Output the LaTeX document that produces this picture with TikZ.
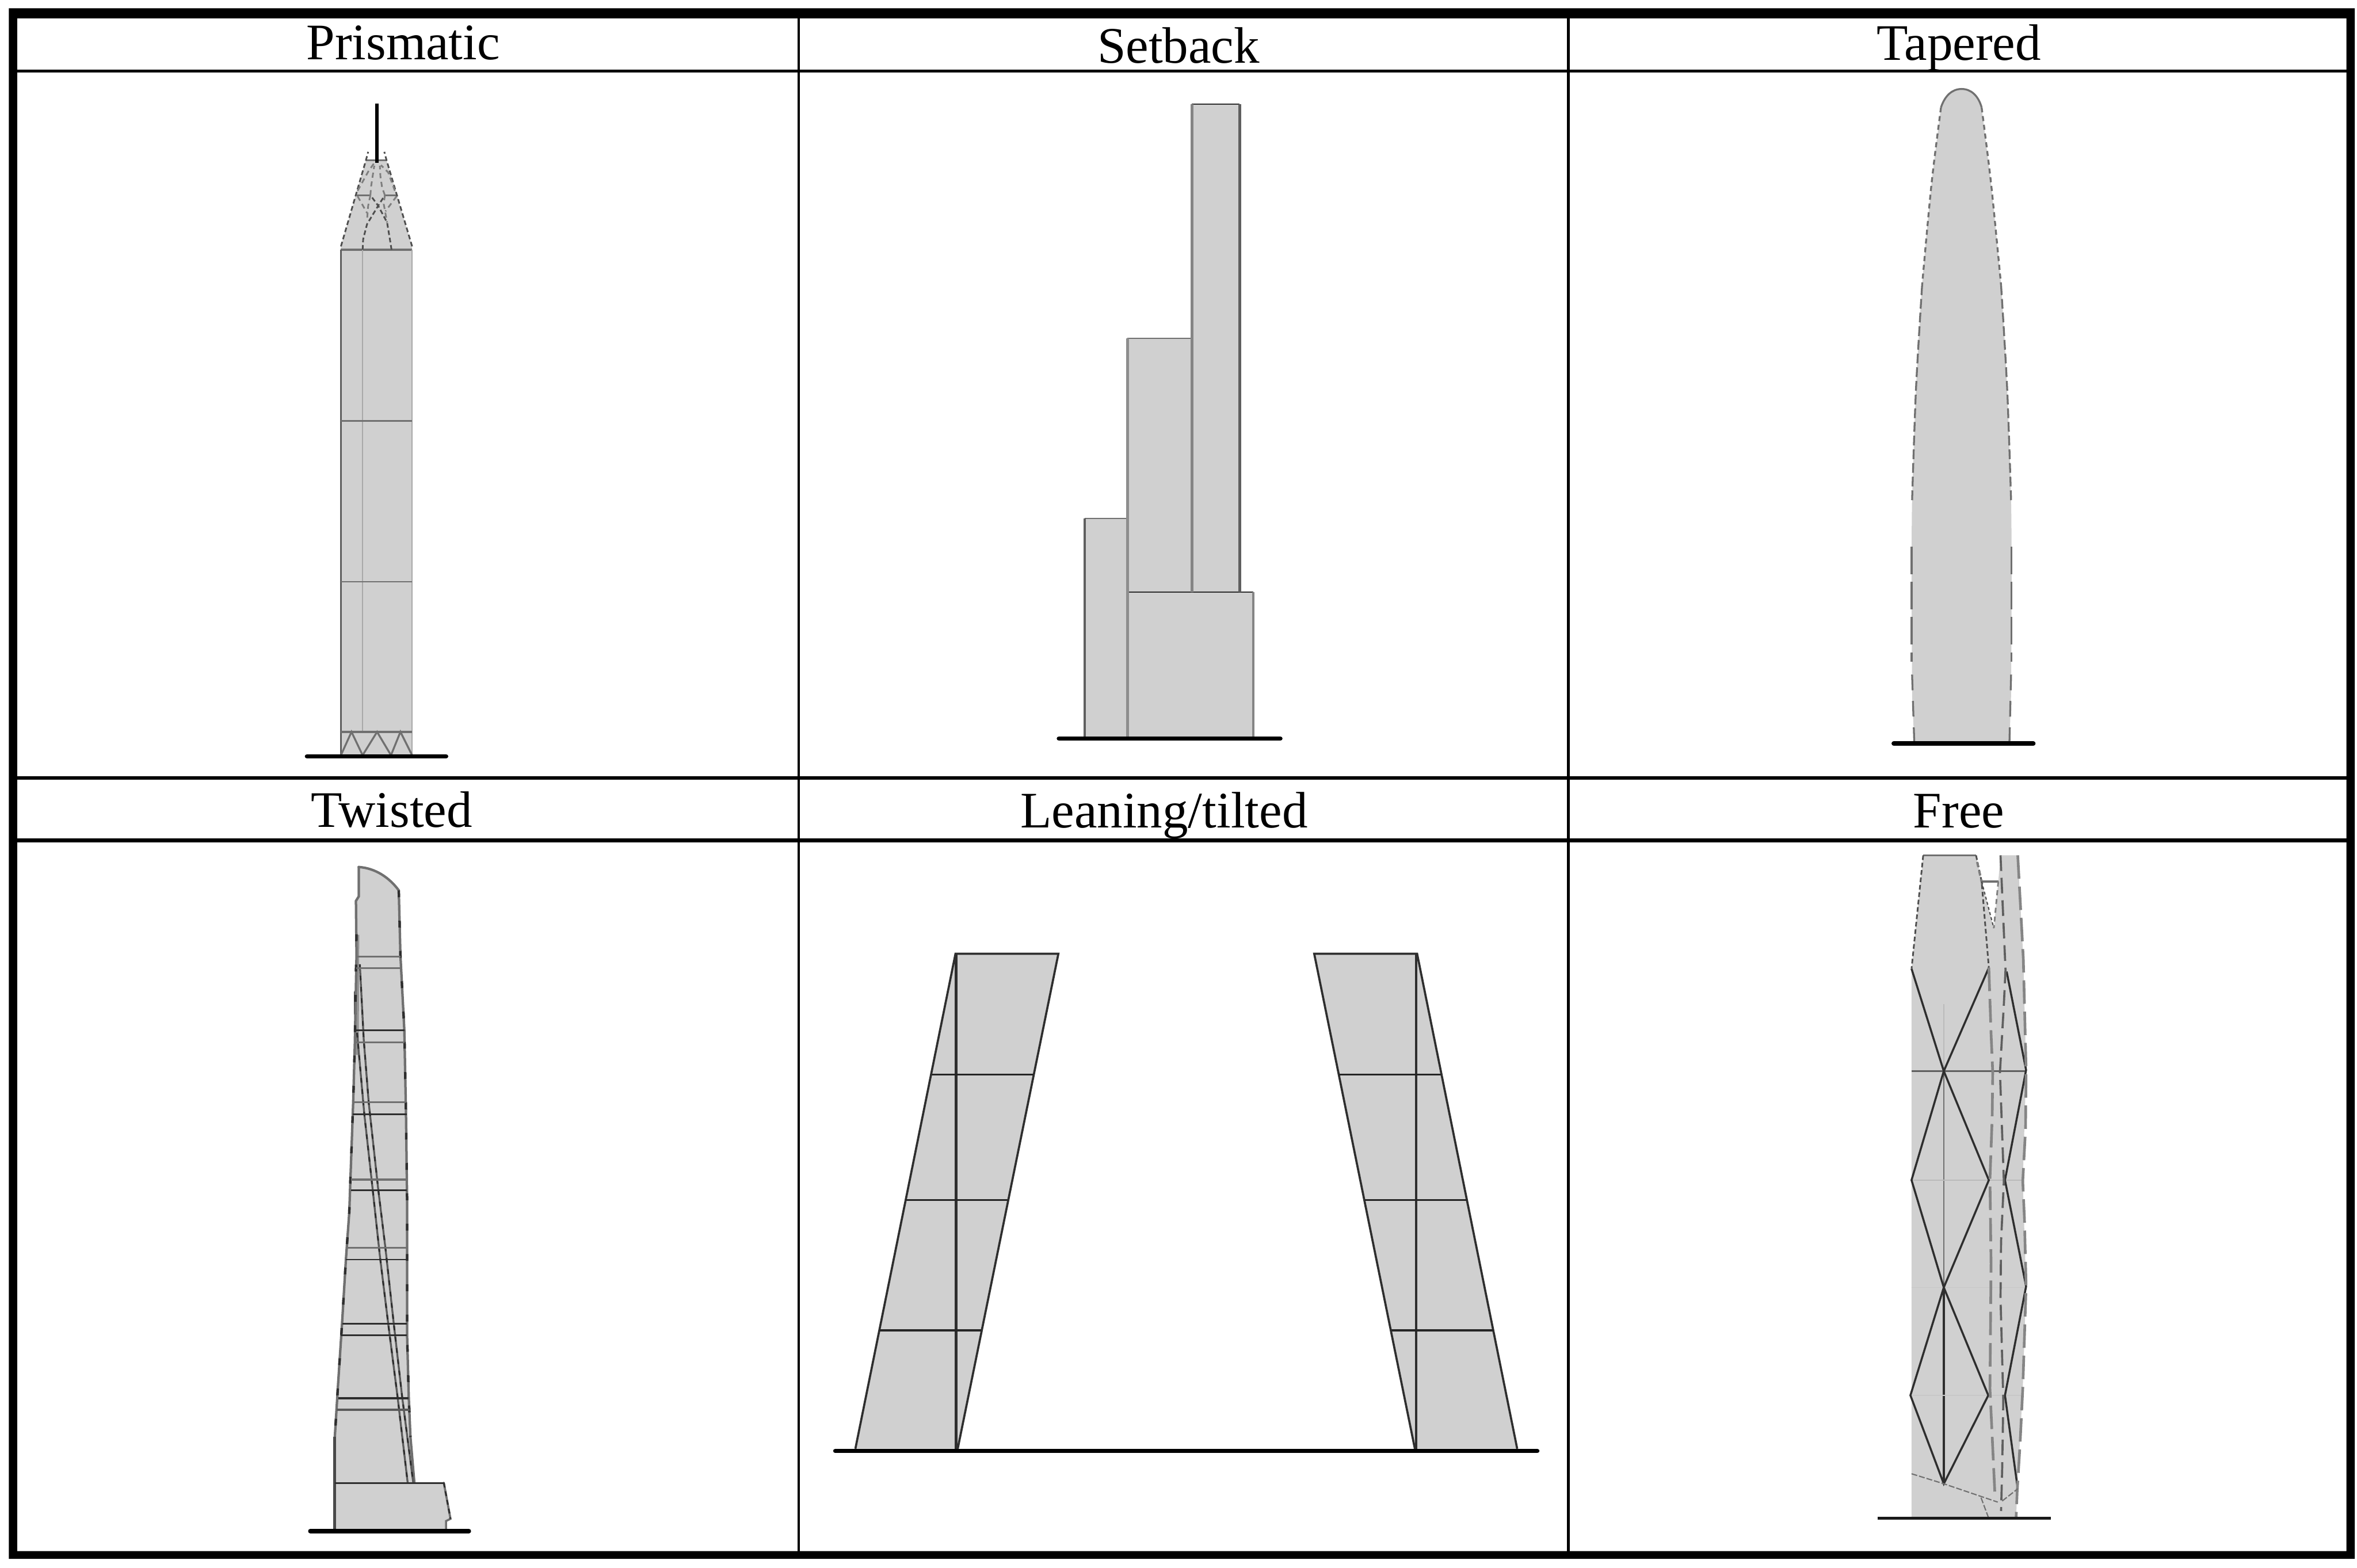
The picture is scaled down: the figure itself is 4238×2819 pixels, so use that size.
\documentclass[tikz,border=0pt]{standalone}
\usepackage{fontspec}
\setmainfont{Liberation Serif}
\def\px{0.2845pt}
\definecolor{bfill}{HTML}{D0D0D0}
\definecolor{edgeA}{HTML}{707070}
\definecolor{edgeB}{HTML}{2E2E2E}
\definecolor{edgeC}{HTML}{A8A8A8}
\tikzset{
  bld/.style={fill=bfill,draw=none},
  gline/.style={line width=8*\px,black,line cap=round},
  rule/.style={line width=#1*\px,black},
  tlabel/.style={anchor=base,inner sep=0pt,font=\fontsize{26.2pt}{30pt}\selectfont},
  sharp/.style={line width=3*\px,draw=edgeB},
  mid/.style={line width=3.4*\px,draw=edgeA},
  soft/.style={line width=2.4*\px,draw=edgeC},
  wall/.style={line width=4.4*\px,draw=edgeA,line cap=round},
  fleck/.style={line width=4.4*\px,draw=edgeB,dash pattern=on 3.5pt off 12pt},
  fdash/.style={line width=3*\px,draw=edgeA!90,dash pattern=on 2.6pt off 1.9pt},
  ddash/.style={line width=3*\px,draw=edgeA!70!black,dash pattern=on 2.4pt off 1.4pt},
  taperup/.style={line width=3.4*\px,draw=edgeA,dash pattern=on 2.6pt off 1.9pt},
  taperlow/.style={line width=3.4*\px,draw=edgeA,dash pattern=on 14pt off 4pt},
  gdash/.style={line width=4.8*\px,draw=edgeA!85,dash pattern=on 12pt off 4pt},
  gdashb/.style={line width=3.8*\px,draw=edgeA!85!black,dash pattern=on 8pt off 3.5pt},
  fine/.style={line width=2.2*\px,draw=edgeA,dash pattern=on 3pt off 1pt},
  dark/.style={line width=3.2*\px,draw=edgeB},
  faint/.style={line width=1.6*\px,draw=black!27},
}
\begin{document}
\begin{tikzpicture}[x=0.01cm,y=-0.01cm]
\useasboundingbox (0,0) rectangle (4238,2819);
\fill[white] (0,0) rectangle (4238,2819);

% ---------- Prismatic ----------
\fill[bld] (613,449) -- (613,443) -- (658,288) -- (695,288) -- (741,443) -- (741,1358) -- (613,1358) -- cycle;
\draw[mid] (613,449) -- (741,449);
\draw[line width=3.8*\px,draw=edgeA!85!black] (613,449) -- (613,1358);
\draw[soft] (741,449) -- (741,1358);
\draw[soft,line width=1.8*\px] (652,449) -- (652,1316);
\draw[mid,line width=2.4*\px] (613,757) -- (741,757);
\draw[mid,line width=2.4*\px] (613,1046) -- (741,1046);
\draw[mid,line width=3.4*\px] (613,1316) -- (741,1316);
\draw[mid] (613,1358) -- (632,1316) -- (652,1358) -- (678,1316) -- (703,1358) -- (720,1316) -- (741,1358);
\draw[mid] (658,288) -- (695,288);
\draw[mid] (642,351) -- (666,351) (692,351) -- (713,351);
\draw[ddash] (613,443) -- (658,288) -- (662,273);
\draw[ddash] (741,443) -- (695,288) -- (691,273);
\draw[ddash] (652,449) -- (653,430) -- (660,403) -- (680,370) -- (692,351);
\draw[ddash] (704,449) -- (701,430) -- (696,400) -- (680,370) -- (666,351);
\draw[fdash] (643,353) -- (660,383);
\draw[fdash] (713,353) -- (693,380);
\draw[fdash] (666,351) -- (667,337) -- (670,317) -- (673,298);
\draw[fdash] (692,351) -- (687,337) -- (684,317) -- (683,298);
\draw[fdash] (666,351) -- (662,370) -- (660,395);
\draw[fdash] (692,351) -- (690,367) -- (696,400);
\draw[fdash] (643,343) -- (663,307) -- (673,293);
\draw[fdash] (710,343) -- (698,310) -- (685,297);
\draw[line width=6.5*\px,black] (678,186) -- (678,293);
\draw[gline] (552,1360) -- (802,1360);

% ---------- Setback ----------
\fill[bld] (1950,932) rectangle (2027,1328);
\fill[bld] (2027,608) rectangle (2143,1065);
\fill[bld] (2143,187) rectangle (2229,1065);
\fill[bld] (2027,1065) rectangle (2253,1328);
\draw[dark,line width=2.2*\px] (2143,187) -- (2229,187);
\draw[dark,line width=2.2*\px,draw=edgeA] (2027,608) -- (2143,608);
\draw[dark,line width=2.2*\px,draw=edgeA] (1950,932) -- (2027,932);
\draw[sharp,line width=2*\px] (2027,1065) -- (2253,1065);
\draw[line width=5*\px,draw=edgeA!85] (2143,187) -- (2143,1065);
\draw[line width=5*\px,draw=edgeA!85!black] (2229,187) -- (2229,1065);
\draw[line width=5*\px,draw=edgeA!80] (2027,608) -- (2027,1328);
\draw[line width=4.2*\px,draw=edgeA!85!black] (1950,932) -- (1950,1328);
\draw[line width=4.2*\px,draw=edgeA!85] (2253,1065) -- (2253,1328);
\draw[gline] (1904,1328) -- (2302,1328);

% ---------- Tapered ----------
\fill[bld] (3442,1337) -- (3438,1250) -- plot[smooth] coordinates {(3437,1067) (3438,900) (3445,700) (3456,513) (3473,330) (3490,193)} .. controls (3497,172) and (3510,160) .. (3527,160) .. controls (3544,160) and (3557,172) .. (3563,193) -- plot[smooth] coordinates {(3580,330) (3598,513) (3609,700) (3616,900) (3617,1067)} -- (3616,1250) -- (3613,1337) -- cycle;
\draw[mid] (3490,193) .. controls (3497,172) and (3510,160) .. (3527,160) .. controls (3544,160) and (3557,172) .. (3563,193);
\draw[taperup] plot[smooth] coordinates {(3490,193) (3473,330) (3456,513)};
\draw[taperup] plot[smooth] coordinates {(3563,193) (3580,330) (3598,513)};
\draw[taperlow,dash pattern=on 5pt off 2pt] plot[smooth] coordinates {(3456,513) (3445,700) (3438,900)};
\draw[taperlow,dash pattern=on 5pt off 2pt] plot[smooth] coordinates {(3598,513) (3609,700) (3616,900)};
\draw[taperlow] (3437,983) -- (3437,1190);
\draw[taperlow] (3617,983) -- (3617,1190);
\draw[taperlow,dash pattern=on 8pt off 5.5pt] (3438,1213) -- (3442,1337);
\draw[taperlow,dash pattern=on 8pt off 5.5pt] (3616,1213) -- (3613,1337);
\draw[gline] (3405,1337) -- (3656,1337);

% ---------- Twisted ----------
\fill[bld] (645,1559) .. controls (675,1561) and (700,1578) .. (717,1601) -- (720,1718) -- (727,1852) -- (730,2003) -- (732,2160) -- (732,2401) -- (735,2513) -- (738,2584) -- (745,2666) -- (798,2666) -- (810,2731) -- (802,2735) -- (802,2750) -- (602,2750) -- (602,2584) -- (608,2487) -- (615,2380) -- (622,2264) -- (628,2180) -- (630,2122) -- (635,1983) -- (638,1877) -- (641,1718) -- (640,1620) -- (645,1612) -- cycle;
\draw[line width=6*\px,draw=edgeA!75] (643,1681) -- (642,1897);
\draw[line width=4.5*\px,draw=edgeA!60!black] (639,1783) -- (639,1824);
\draw[wall] (645,1559) .. controls (675,1561) and (700,1578) .. (717,1601) -- (720,1718) -- (727,1852) -- (730,2003) -- (732,2160) -- (732,2401) -- (735,2513) -- (738,2584) -- (745,2666);
\draw[wall] (645,1559) -- (645,1612) -- (640,1620) -- (641,1718) -- (638,1877) -- (635,1983) -- (630,2122) -- (628,2180) -- (622,2264) -- (615,2380) -- (608,2487) -- (602,2584);
\draw[fleck] (717,1601) -- (720,1718) -- (727,1852) -- (730,2003) -- (732,2160) -- (732,2401) -- (735,2513) -- (738,2584);
\draw[fleck] (641,1680) -- (638,1877) -- (635,1983) -- (630,2122) -- (628,2180) -- (622,2264) -- (615,2380) -- (608,2487) -- (602,2584);
\draw[line width=5*\px,draw=edgeA!65!black] (602,2584) -- (602,2750);
\draw[wall,line width=3.8*\px] (798,2666) -- (810,2731) -- (802,2735) -- (802,2750);
\draw[fleck,line width=3*\px,dash pattern=on 2.5pt off 2pt] (798,2666) -- (810,2731);
\draw[mid,line width=3.4*\px,draw=edgeA!80!black] (647,1734) -- (654,1869) -- (663,1983) -- (680,2138) -- (693,2244) -- (708,2380) -- (723,2511) -- (743,2666);
\draw[mid,line width=3.4*\px,draw=edgeA!80!black] (642,1857) -- (655,2003) -- (670,2138) -- (683,2258) -- (698,2380) -- (715,2513) -- (733,2666);
\draw[fleck,line width=3*\px,dash pattern=on 2.4pt off 3.4pt] (647,1734) -- (654,1869) -- (663,1983) -- (680,2138) -- (693,2244) -- (708,2380) -- (723,2511) -- (743,2666);
\draw[fleck,line width=3*\px,dash pattern=on 2.4pt off 3.4pt] (642,1857) -- (655,2003) -- (670,2138) -- (683,2258) -- (698,2380) -- (715,2513) -- (733,2666);
\draw[mid] (640,1720) -- (720,1720);
\draw[mid,line width=2.8*\px] (640,1741) -- (722,1741);
\draw[dark] (640,1853) -- (727,1853);
\draw[mid] (639,1874) -- (727,1874);
\draw[mid] (636,1982) -- (729,1982);
\draw[dark] (634,2004) -- (731,2004);
\draw[mid] (631,2121) -- (731,2121);
\draw[dark,line width=3.4*\px] (631,2140) -- (731,2140);
\draw[mid] (624,2244) -- (732,2244);
\draw[dark,line width=2.4*\px] (622,2265) -- (731,2265);
\draw[dark,line width=3.4*\px] (616,2380) -- (731,2380);
\draw[dark,line width=3.4*\px] (613,2401) -- (732,2401);
\draw[dark,line width=3.8*\px] (608,2514) -- (735,2514);
\draw[mid,line width=3.4*\px,draw=edgeA!80!black] (605,2535) -- (737,2535);
\draw[dark,line width=3.4*\px] (602,2667) -- (798,2667);
\draw[gline] (558,2753) -- (843,2753);

% ---------- Leaning/tilted ----------
\fill[bld] (1718,1715) -- (1903,1715) -- (1722,2605) -- (1538,2605) -- cycle;
\fill[bld] (2548,1715) -- (2363,1715) -- (2544,2605) -- (2728,2605) -- cycle;
\draw[dark,line width=3.8*\px] (1538,2605) -- (1718,1715) -- (1903,1715) -- (1722,2605);
\draw[dark,line width=3.8*\px] (2728,2605) -- (2548,1715) -- (2363,1715) -- (2544,2605);
\draw[dark,line width=4.4*\px] (1719,1715) -- (1719,2605);
\draw[dark,line width=4.4*\px] (2546,1715) -- (2546,2605);
\draw[sharp,draw=edgeB!80!black,line width=3.6*\px] (1675,1932) -- (1858,1932);
\draw[sharp,draw=edgeB!80!black,line width=3.6*\px] (1629,2158) -- (1812,2158);
\draw[sharp,draw=edgeB!80!black,line width=3.6*\px] (1581,2392) -- (1764,2392);
\draw[sharp,draw=edgeB!80!black,line width=3.6*\px] (2591,1932) -- (2408,1932);
\draw[sharp,draw=edgeB!80!black,line width=3.6*\px] (2637,2158) -- (2454,2158);
\draw[sharp,draw=edgeB!80!black,line width=3.6*\px] (2685,2392) -- (2502,2392);
\draw[gline] (1502,2609) -- (2764,2609);

% ---------- Free ----------
\fill[bld] (3458,1538) -- (3553,1538) -- (3563,1585) -- (3585,1669) -- (3593,1585) -- (3597,1538) -- (3628,1538) -- (3638,1724) -- (3643,1924) -- (3637,2124) -- (3643,2313) -- (3637,2497) -- (3627,2681) -- (3625,2730) -- (3437,2730) -- (3437,1742) -- cycle;
\draw[faint] (3495,1806) -- (3495,1926);
\draw[line width=2.6*\px,draw=edgeA] (3495,1926) -- (3495,2315);
\draw[line width=3.4*\px,draw=edgeB] (3495,2315) -- (3495,2668);
\draw[line width=2.6*\px,draw=edgeA!85!black] (3437,1926) -- (3643,1926);
\draw[faint] (3437,2122) -- (3637,2122);
\draw[faint,draw=black!22] (3437,2315) -- (3643,2315);
\draw[faint,draw=black!22] (3435,2509) -- (3637,2509);
\draw[dark,line width=3.6*\px] (3437,1742) -- (3495,1926) -- (3576,2122) -- (3495,2315) -- (3575,2509) -- (3495,2668) -- (3435,2509) -- (3495,2315) -- (3437,2122) -- (3495,1926) -- (3576,1740);
\draw[dark,line width=3.6*\px] (3608,1747) -- (3643,1924) -- (3605,2122) -- (3643,2313) -- (3605,2509) -- (3628,2677);
\draw[mid,line width=2.4*\px] (3458,1538) -- (3553,1538);
\draw[ddash] (3458,1538) -- (3437,1742);
\draw[ddash] (3553,1538) -- (3563,1585) -- (3576,1740);
\draw[fdash,line width=4*\px] (3555,1550) -- (3564,1590);
\draw[mid] (3563,1585) -- (3593,1585);
\draw[ddash,line width=2.2*\px,dash pattern=on 1.5pt off 1.2pt] (3563,1585) -- (3585,1669);
\draw[fdash] (3593,1585) -- (3585,1669);
\draw[gdash] (3628,1538) -- (3638,1724) -- (3643,1924) -- (3642,2030) -- (3637,2124) -- (3640,2191) -- (3643,2313) -- (3637,2497) -- (3632,2599) -- (3627,2681) -- (3625,2730);
\draw[gdashb] (3597,1538) -- (3606,1744) -- (3603,1806) -- (3596,1928) -- (3603,2124) -- (3598,2232) -- (3597,2334) -- (3602,2517) -- (3600,2640) -- (3598,2717);
\draw[gdash] (3576,1740) -- (3580,1859) -- (3583,1928) -- (3582,2010) -- (3578,2120) -- (3580,2272) -- (3578,2497) -- (3587,2689);
\draw[fine] (3437,2650) -- (3495,2668) -- (3592,2701);
\draw[fine] (3600,2699) -- (3628,2677);
\draw[fine] (3562,2693) -- (3575,2728);
\draw[line width=5.5*\px,draw=black!90] (3376,2730) -- (3688,2730);

% ---------- Table ----------
\fill[black,even odd rule] (16,15) rectangle (4234,2803) (31,33) rectangle (4219,2789);
\draw[rule=4.5] (1436,33) -- (1436,2789);
\draw[rule=4.5] (2820,33) -- (2820,2789);
\draw[rule=5.5] (31,128) -- (4219,128);
\draw[rule=5.5] (31,1399) -- (4219,1399);
\draw[rule=6.5] (31,1511) -- (4219,1511);

\node[tlabel] (tPrismatic) at (725,107) {Prismatic};
\node[tlabel] (tSetback) at (2119,113) {Setback};
\node[tlabel] (tTapered) at (3522,108) {Tapered};
\node[tlabel] (tTwisted) at (704,1487) {Twisted};
\node[tlabel] (tLeaning) at (2093,1488) {Leaning/tilted};
\node[tlabel] (tFree) at (3522,1488) {Free};
\end{tikzpicture}
\end{document}
